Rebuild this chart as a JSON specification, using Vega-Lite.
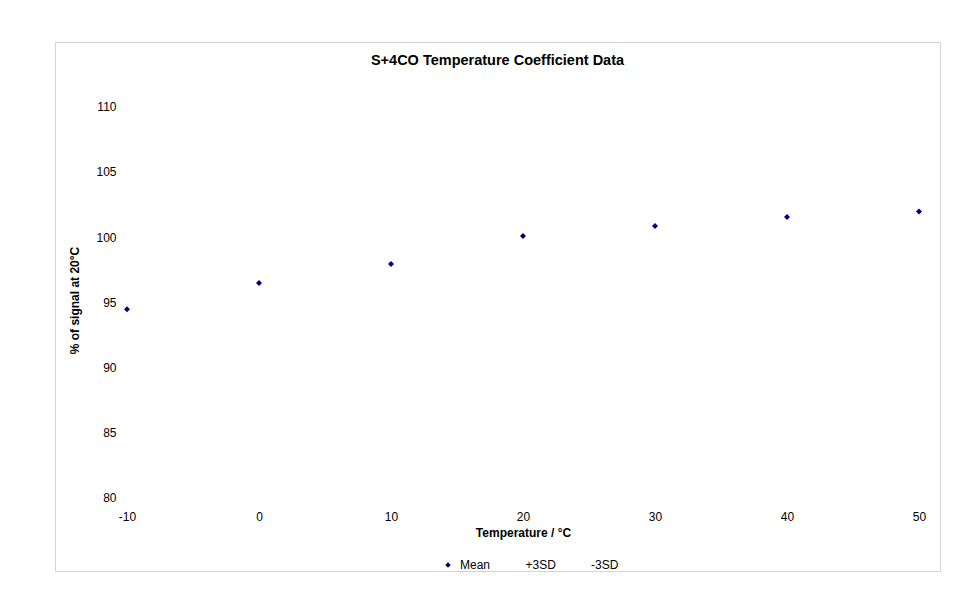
{
  "$schema": "https://vega.github.io/schema/vega-lite/v6.json",
  "width": 885,
  "height": 529,
  "autosize": {"type": "none"},
  "padding": {"left": 55, "top": 42, "right": 40, "bottom": 37},
  "background": "white",
  "config": {"font": "Liberation Sans", "view": {"stroke": "#d4d4d4"}},
  "title": {"text": "S+4CO Temperature Coefficient Data", "fontSize": 14.5, "fontWeight": "bold", "font": "Liberation Sans", "color": "black", "anchor": "middle", "offset": -33, "baseline": "middle"},
  "data": {"values": [
    {"temperature": -10, "signal": 94.45, "series": "Mean"},
    {"temperature": 0, "signal": 96.47, "series": "Mean"},
    {"temperature": 10, "signal": 97.93, "series": "Mean"},
    {"temperature": 20, "signal": 100.08, "series": "Mean"},
    {"temperature": 30, "signal": 100.84, "series": "Mean"},
    {"temperature": 40, "signal": 101.53, "series": "Mean"},
    {"temperature": 50, "signal": 101.97, "series": "Mean"}
  ]},
  "mark": {"type": "point", "shape": "diamond", "filled": true, "size": 36, "opacity": 1},
  "encoding": {
    "x": {"field": "temperature", "type": "quantitative",
      "scale": {"domain": [-15.4545, 51.59], "nice": false, "zero": false},
      "axis": {"values": [-10, 0, 10, 20, 30, 40, 50], "labelExpr": "datum.value < 0 ? '-' + abs(datum.value) : datum.label", "grid": false, "domain": false, "ticks": false, "offset": -65, "labelPadding": 5, "labelFontSize": 12, "labelColor": "black", "labelFont": "Liberation Sans", "title": "Temperature / °C", "titleFontSize": 12, "titleFontWeight": "bold", "titleColor": "black", "titleFont": "Liberation Sans", "titlePadding": 5, "titleX": 468}},
    "y": {"field": "signal", "type": "quantitative",
      "scale": {"domain": [74.37, 114.97], "nice": false, "zero": false},
      "axis": {"values": [80, 85, 90, 95, 100, 105, 110], "grid": false, "domain": false, "ticks": false, "offset": -63, "labelPadding": 2, "labelFontSize": 12, "labelColor": "black", "labelFont": "Liberation Sans", "title": "% of signal at 20°C", "titleFontSize": 12, "titleFontWeight": "bold", "titleColor": "black", "titleFont": "Liberation Sans", "titlePadding": 14, "titleY": 258}},
    "color": {"field": "series", "type": "nominal",
      "scale": {"domain": ["Mean", "+3SD", "-3SD"], "range": ["#000088", "transparent", "transparent"]},
      "legend": {"title": null, "orient": "none", "legendX": 387, "legendY": 517, "direction": "horizontal", "symbolType": "diamond", "symbolSize": 30, "labelFontSize": 12, "labelColor": "black", "labelFont": "Liberation Sans", "labelOffset": 6, "columnPadding": 16.5, "symbolStrokeWidth": 0}}
  }
}
